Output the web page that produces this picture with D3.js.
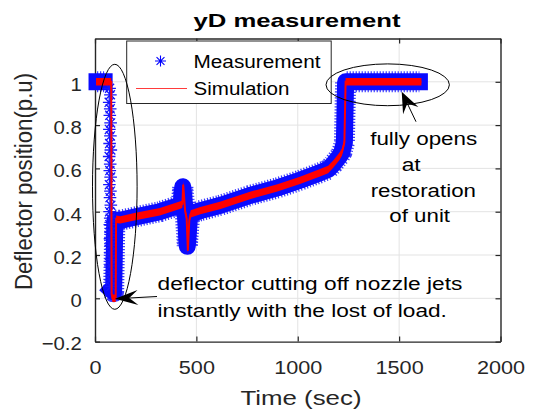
<!DOCTYPE html>
<html>
<head>
<meta charset="utf-8">
<script src="https://cdn.jsdelivr.net/npm/d3@7"></script>
<style>
  body { margin: 0; background: #fff; }
  svg { display: block; font-family: "Liberation Sans", Arial, sans-serif; }
</style>
</head>
<body>
<div id="chart"></div>
<script>
// ---- data ----
var timeTicks = [0, 500, 1000, 1500, 2000];
var posTicks = [-0.2, 0, 0.2, 0.4, 0.6, 0.8, 1];

// simulation (red)
var simT = [5, 80, 82, 86, 102, 104, 125, 200, 320, 425, 431, 435, 445, 452, 458, 465, 472, 520, 620, 764, 900, 1011, 1110, 1150, 1175, 1205, 1218, 1230, 1236, 1610];
var simV = [1, 1, 0.02, 0, 0, 0.365, 0.362, 0.378, 0.40, 0.432, 0.436, 0.525, 0.40, 0.37, 0.22, 0.36, 0.39, 0.405, 0.43, 0.475, 0.51, 0.545, 0.58, 0.595, 0.62, 0.655, 0.675, 0.72, 1, 1];

// measurement (blue stars, dense band) - null = break
var measT = [10, 45, null, 80, 92, 98, 125, 200, 320, 425, 433, 445, 455, 466, 472, 520, 620, 764, 900, 1011, 1110, 1150, 1175, 1205, 1218, 1230, 1236, 1600];
var measV = [1, 1, null, 0.04, 0.03, 0.36, 0.36, 0.376, 0.40, 0.432, 0.515, 0.40, 0.24, 0.37, 0.39, 0.405, 0.43, 0.475, 0.51, 0.545, 0.58, 0.595, 0.62, 0.655, 0.675, 0.72, 1, 1];

// sparse measurement stars during the fall
var fallT = [72, 76, 70, 75, 73, 77, 71, 76, 72, 78, 70, 75, 73, 77, 71, 76, 74, 78, 72, 75, 73, 77, 74, 78, 75, 79, 76, 80, 77, 79];
var fallV = [0.97, 0.94, 0.905, 0.875, 0.845, 0.81, 0.78, 0.75, 0.715, 0.685, 0.655, 0.62, 0.59, 0.56, 0.525, 0.495, 0.465, 0.43, 0.40, 0.37, 0.34, 0.305, 0.275, 0.245, 0.21, 0.18, 0.15, 0.115, 0.085, 0.055];

var width = 535, height = 409;
var axisCol = "#262626";

var svg = d3.select("#chart").append("svg")
    .attr("width", width)
    .attr("height", height);

var x = d3.scaleLinear().domain([0, 2000]).range([95, 500.5]);
var y = d3.scaleLinear().domain([-0.2, 1.2]).range([341.6, 38.5]);

// grid
var grid = svg.append("g").attr("stroke", "#e3e3e3").attr("stroke-width", 1);
grid.selectAll(".gx").data([500, 1000, 1500]).enter().append("line")
    .attr("x1", d => x(d)).attr("x2", d => x(d))
    .attr("y1", y(-0.2)).attr("y2", y(1.2));
grid.selectAll(".gy").data([0, 0.2, 0.4, 0.6, 0.8, 1]).enter().append("line")
    .attr("y1", d => y(d)).attr("y2", d => y(d))
    .attr("x1", x(0)).attr("x2", x(2000));

// axes (ticks pointing in)
function styleAxis(g) {
    g.select(".domain").attr("stroke", axisCol).attr("stroke-width", 1.4);
    g.selectAll(".tick line").attr("stroke", axisCol).attr("stroke-width", 1.2);
    g.selectAll(".tick text").attr("fill", axisCol)
        .style("font-size", "18.5px").style("font-family", "'Liberation Sans', Arial, sans-serif");
}

var xAxis = svg.append("g")
    .attr("transform", "translate(0," + y(-0.2) + ")")
    .call(d3.axisBottom(x).tickValues(timeTicks).tickSize(-5).tickSizeOuter(0).tickPadding(19.5).tickFormat(d3.format("d")));
styleAxis(xAxis);
xAxis.selectAll(".tick text").attr("transform", "scale(1.17,1)");

var yAxis = svg.append("g")
    .attr("transform", "translate(" + x(0) + ",0)")
    .call(d3.axisLeft(y).tickValues(posTicks).tickSize(-5).tickSizeOuter(0).tickPadding(12)
        .tickFormat(d => d === 0 ? "0" : d3.format("~g")(d)));
styleAxis(yAxis);
yAxis.selectAll(".tick text").attr("dy", "0.45em").attr("transform", "scale(1.1,1)");

var topAxis = svg.append("g")
    .attr("transform", "translate(0," + y(1.2) + ")")
    .call(d3.axisTop(x).tickValues(timeTicks).tickSize(-5).tickSizeOuter(0).tickFormat(""));
styleAxis(topAxis);

var rightAxis = svg.append("g")
    .attr("transform", "translate(" + x(2000) + ",0)")
    .call(d3.axisRight(y).tickValues(posTicks).tickSize(-5).tickSizeOuter(0).tickFormat(""));
styleAxis(rightAxis);

// measurement band (fuzzy edge from a dashed wider stroke underneath)
var measData = measT.map((t, i) => ({t: t, v: measV[i]}));
var measLine = d3.line()
    .defined(d => d.v !== null)
    .x(d => x(d.t)).y(d => y(d.v));

svg.append("path")
    .datum(measData)
    .attr("d", measLine)
    .attr("fill", "none")
    .attr("stroke", "#3a3aff")
    .attr("stroke-width", 21)
    .attr("stroke-dasharray", "1.2 1.8")
    .attr("stroke-linejoin", "round");

svg.append("path")
    .datum(measData)
    .attr("d", measLine)
    .attr("fill", "none")
    .attr("stroke", "#0a0aff")
    .attr("stroke-width", 17)
    .attr("stroke-linejoin", "round")
    .attr("stroke-linecap", "square");

// asterisk marker
function star(r) {
    var d = r * 0.72;
    return "M" + (-r) + ",0L" + r + ",0M0," + (-r) + "L0," + r +
        "M" + (-d) + "," + (-d) + "L" + d + "," + d +
        "M" + (-d) + "," + d + "L" + d + "," + (-d);
}

var fallData = fallT.map((t, i) => ({t: t, v: fallV[i]}));
svg.append("g").selectAll("path")
    .data(fallData).enter().append("path")
    .attr("transform", d => "translate(" + x(d.t) + "," + y(d.v) + ")")
    .attr("d", star(6.3))
    .attr("fill", "none")
    .attr("stroke", "#1515ff")
    .attr("stroke-width", 1.3);

// simulation: noisy band drawn as thin area + line
var simData = simT.map((t, i) => ({t: t, v: simV[i]}));
svg.append("path")
    .datum(simData)
    .attr("d", d3.area().x(d => x(d.t)).y0(d => y(d.v - 0.017)).y1(d => y(d.v + 0.017)))
    .attr("fill", "#ff0000");
svg.append("path")
    .datum(simData)
    .attr("d", d3.line().x(d => x(d.t)).y(d => y(d.v)))
    .attr("fill", "none")
    .attr("stroke", "#ff0000")
    .attr("stroke-width", 2);

// title and labels
svg.append("text")
    .attr("x", 297).attr("y", 26.7)
    .attr("text-anchor", "middle")
    .attr("textLength", 207).attr("lengthAdjust", "spacingAndGlyphs")
    .style("font-size", "19px").style("font-weight", "bold")
    .attr("fill", "#000")
    .text("yD measurement");

svg.append("text")
    .attr("x", 301).attr("y", 405)
    .attr("text-anchor", "middle")
    .attr("textLength", 121).attr("lengthAdjust", "spacingAndGlyphs")
    .style("font-size", "21px")
    .attr("fill", axisCol)
    .text("Time (sec)");

svg.append("text")
    .attr("transform", "translate(31.5,181.5) rotate(-90) scale(1,1.15)")
    .attr("text-anchor", "middle")
    .attr("textLength", 217).attr("lengthAdjust", "spacingAndGlyphs")
    .style("font-size", "21px")
    .attr("fill", axisCol)
    .text("Deflector position(p.u)");

// legend
var leg = svg.append("g");
leg.append("rect")
    .attr("x", 126.7).attr("y", 41).attr("width", 204.5).attr("height", 62.5)
    .attr("fill", "#fff").attr("stroke", axisCol).attr("stroke-width", 1);
leg.append("path")
    .attr("transform", "translate(160.5,61)")
    .attr("d", star(5.5))
    .attr("fill", "none").attr("stroke", "#0000ff").attr("stroke-width", 1.1);
leg.append("line")
    .attr("x1", 136).attr("x2", 187).attr("y1", 88.5).attr("y2", 88.5)
    .attr("stroke", "#ff3b3b").attr("stroke-width", 1.2);
leg.append("text")
    .attr("x", 193.5).attr("y", 67.5)
    .attr("textLength", 127).attr("lengthAdjust", "spacingAndGlyphs")
    .style("font-size", "17.5px").attr("fill", "#000")
    .text("Measurement");
leg.append("text")
    .attr("x", 193.5).attr("y", 95)
    .attr("textLength", 96).attr("lengthAdjust", "spacingAndGlyphs")
    .style("font-size", "17.5px").attr("fill", "#000")
    .text("Simulation");

// annotations
var ann = svg.append("g");
ann.append("ellipse")
    .attr("cx", 114.8).attr("cy", 186.8).attr("rx", 22.3).attr("ry", 122.5)
    .attr("fill", "none").attr("stroke", "#000").attr("stroke-width", 1);
ann.append("ellipse")
    .attr("cx", 387.7).attr("cy", 84.8).attr("rx", 61.7).attr("ry", 20.9)
    .attr("fill", "none").attr("stroke", "#000").attr("stroke-width", 1);

function arrow(x0, y0, x1, y1, len, hw) {
    var dx = x1 - x0, dy = y1 - y0, L = Math.hypot(dx, dy);
    var ux = dx / L, uy = dy / L, px = -uy, py = ux;
    var bx = x1 - ux * len, by = y1 - uy * len;
    var nx = x1 - ux * len * 0.62, ny = y1 - uy * len * 0.62;
    ann.append("line")
        .attr("x1", x0).attr("y1", y0).attr("x2", nx).attr("y2", ny)
        .attr("stroke", "#000").attr("stroke-width", 1);
    ann.append("path")
        .attr("d", "M" + x1 + "," + y1 +
            "L" + (bx + px * hw) + "," + (by + py * hw) +
            "L" + nx + "," + ny +
            "L" + (bx - px * hw) + "," + (by - py * hw) + "Z")
        .attr("fill", "#000");
}
arrow(157, 296.5, 115, 298.8, 23, 7.5);
arrow(416, 121.7, 401.7, 91.7, 21, 8.5);

var annText = [
    {s: "deflector cutting off nozzle jets", x: 157.6, y: 290, len: 304.7, a: "start"},
    {s: "instantly with the lost of load.", x: 157.6, y: 316.5, len: 289.3, a: "start"},
    {s: "fully opens", x: 423.7, y: 145, len: 107, a: "middle"},
    {s: "at", x: 411.2, y: 170.7, len: 19, a: "middle"},
    {s: "restoration", x: 423.3, y: 196.7, len: 105.3, a: "middle"},
    {s: "of unit", x: 419.7, y: 221.7, len: 60.7, a: "middle"}
];
ann.selectAll(".note").data(annText).enter().append("text")
    .attr("x", d => d.x).attr("y", d => d.y)
    .attr("text-anchor", d => d.a)
    .attr("textLength", d => d.len).attr("lengthAdjust", "spacingAndGlyphs")
    .style("font-size", "17.5px").attr("fill", "#000")
    .text(d => d.s);
</script>
</body>
</html>
